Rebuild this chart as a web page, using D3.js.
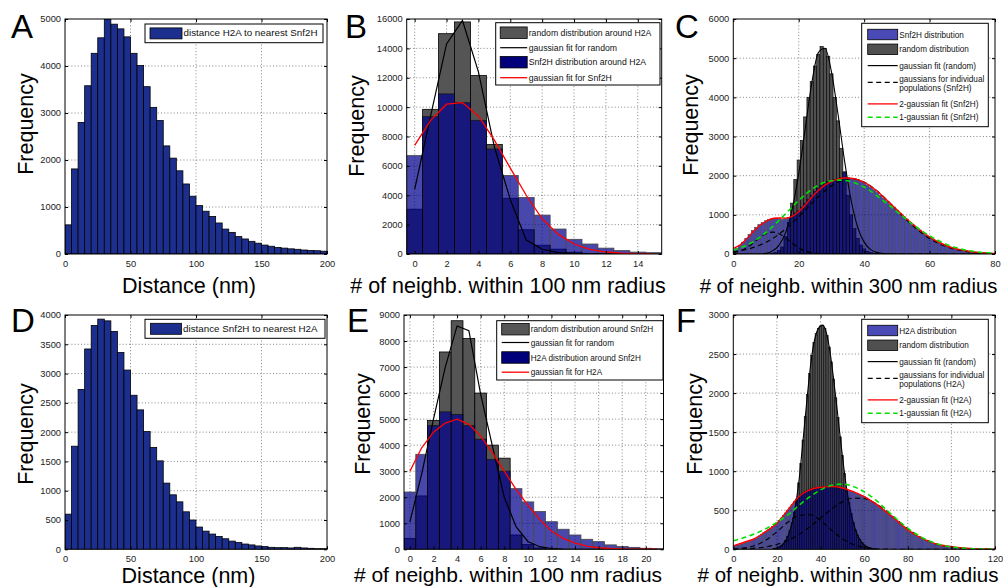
<!DOCTYPE html>
<html><head><meta charset="utf-8">
<script src="https://cdn.jsdelivr.net/npm/d3@7"></script>
<style>
body{margin:0;background:#fff;}
svg{display:block;}
text{font-family:"Liberation Sans",Arial,Helvetica,sans-serif;}
</style></head><body>
<svg id="fig" width="1003" height="587"></svg>
<script>
// ---------------- DATA ----------------
// Panel A: distance H2A to nearest Snf2H (bins of 5 nm, 0..200)
const A_binWidth = 5;
const A_counts = [620,1810,2800,3580,4270,4600,5000,4890,4790,4620,4270,4010,3560,3120,2840,2300,2040,1770,1490,1230,
                  1030,910,800,660,530,460,370,320,270,230,190,165,140,125,110,100,85,75,70,60];
// Panel D: distance Snf2H to nearest H2A
const D_binWidth = 5;
const D_counts = [600,1760,2730,3420,3820,3930,3900,3720,3360,3060,2630,2380,2010,1740,1510,1130,930,810,640,500,
                  380,310,260,220,180,140,115,90,75,57,46,34,28,28,23,34,23,17,11,11];

// Panel B: # neighbours within 100 nm (integer bins 0..15)
const B_random = [3050,9850,15000,15800,12150,7450,3800,1650,600,330,120,30,10,0,0,0];
const B_snf2h  = [6700,9350,10900,10300,9100,7150,5350,3850,2650,1700,1000,680,400,230,130,90];
const B_fitRandom = [4400,9400,14300,15900,12400,7300,3700,950,320,100,30,0,0,0,0,0];
const B_fitSnf2h  = [7400,9100,10200,10300,9400,7750,5850,4000,2400,1350,680,320,135,50,17,5];

// Panel E: # neighbours within 100 nm (integer bins 0..21)
const E_random = [420,2050,4950,7580,8780,8100,6000,4000,3500,550,180,50,10,0,0,0,0,0,0,0,0,0];
const E_h2a    = [2200,3650,4750,5280,5180,4750,4230,3450,3000,2330,1820,1450,1060,770,550,385,295,170,105,75,40,25];
const E_fitRandom = [1050,2900,5000,7000,8580,8400,5950,3950,2000,870,300,100,30,8,0,0,0,0,0,0,0,0];
const E_fitH2a    = [3000,3900,4500,4850,5000,4800,4350,3700,3000,2300,1700,1150,700,420,240,120,60,30,12,5,2,1];

// Panel C: # neighbours within 300 nm (integer bins 0..79)
const C_snf2h = [100,150,220,300,400,500,600,680,750,800,850,880,900,920,900,880,900,930,980,1050,
                 1100,1200,1300,1400,1500,1600,1680,1750,1800,1850,1880,1900,1920,1950,2080,1950,1930,1920,1900,1860,
                 1820,1760,1700,1640,1570,1500,1420,1350,1270,1200,1120,1040,960,890,810,740,670,610,540,480,
                 430,380,330,290,250,210,180,155,130,115,100,85,70,58,48,40,32,25,20,15];
const C_random = [0,0,0,0,0,0,0,0,0,0,0,0,20,40,90,180,450,800,1300,1900,
                  2400,2900,3500,4000,4400,4800,5100,5300,5250,5050,4600,4000,3400,2700,2100,1500,1000,650,400,230,
                  130,70,35,15,8,0,0,0,0,0];
// fitted curves for C, sampled every 2 units
const C_fitX = [0,2,4,6,8,10,12,14,16,18,20,22,24,26,28,30,32,34,36,38,40,42,44,46,48,50,52,54,56,58,60,62,64,66,68,70,72,74,76,78,80];
const C_fitRandom = [0,0,0,0,0,15,80,228,546,1140,2052,3215,4367,5143,5254,4655,3577,2385,1379,690,303,113,37,10,3,0,0,0,0,0,0,0,0,0,0,0,0,0,0,0,0];
const C_pop1 = [31,76,156,273,407,517,560,517,407,273,156,76,31,11,3,1,0,0,0,0,0,0,0,0,0,0,0,0,0,0,0,0,0,0,0,0,0,0,0,0,0];
const C_pop2 = [55,81,115,163,223,300,395,509,641,789,951,1121,1294,1459,1610,1739,1837,1899,1920,1899,1837,1739,1610,1459,1294,1121,951,789,641,509,395,300,223,163,115,81,55,37,24,15,9];
const C_fit2 = [145,230,380,560,720,830,905,920,915,960,1080,1250,1450,1620,1760,1850,1910,1940,1935,1900,1830,1730,1600,1450,1290,1130,970,820,680,550,435,335,255,185,135,100,70,48,32,22,15];
const C_fit1 = [100,150,220,310,420,550,700,860,1030,1200,1370,1520,1650,1760,1830,1870,1885,1880,1850,1790,1710,1605,1480,1350,1220,1080,950,810,690,570,465,370,290,220,165,120,85,60,40,28,18];

// Panel F: # neighbours within 300 nm (integer bins 0..119)
const F_h2a = [40,50,55,60,70,80,90,100,110,125, 140,155,170,190,210,230,250,270,295,315,
               335,370,400,430,465,500,540,575,610,645, 675,700,720,740,755,765,775,785,790,795,
               800,805,805,805,805,800,800,795,790,785, 780,770,760,750,740,735,720,710,700,690,
               675,660,640,625,605,590,570,550,530,505, 485,460,440,415,390,370,345,320,295,270,
               250,230,210,190,175,160,145,130,118,105, 95,85,75,68,60,55,48,43,38,35,
               32,28,25,22,19,17,15,13,11,10, 8,7,6,5,4,3,3,2,2,1];
const F_random = [0,0,0,0,0,0,0,0,0,0, 0,0,0,0,0,0,0,0,0,10,
                  17,28,45,70,110,165,240,340,470,640, 850,1100,1400,1700,1980,2250,2480,2650,2760,2830,
                  2860,2870,2830,2740,2590,2400,2180,1940,1690,1440, 1200,970,770,600,460,345,250,180,125,85,
                  55,35,22,13,7,0,0,0,0,0];
const F_rndX = [18,20,22,24,26,28,30,32,34,36,38,40,41,42,44,46,48,50,52,54,56,58,60,62,64,66];
const F_fitRandom = [8,17,45,110,240,470,850,1400,1980,2480,2760,2860,2870,2830,2590,2180,1690,1200,770,460,250,125,55,22,7,2];
const F_fitX = [0,5,10,15,20,25,30,35,40,45,50,55,60,65,70,75,80,85,90,95,100,105,110,115,120];
const F_pop1 = [5,18,50,118,224,346,433,443,368,248,136,61,22,7,2,0,0,0,0,0,0,0,0,0,0];
const F_pop2 = [2,6,14,31,62,112,187,286,400,515,607,655,650,591,493,377,264,170,100,54,27,12,5,2,1];
const F_fit2 = [43,90,141,230,333,504,674,760,794,802,785,738,674,589,482,367,248,162,98,55,34,17,8,4,2];
const F_fit1 = [110,150,200,265,345,440,560,670,760,820,835,805,735,640,510,385,270,175,105,58,30,15,7,3,1];

// ticks
const A_xticks=[0,50,100,150,200], A_yticks=[0,1000,2000,3000,4000,5000];
const D_xticks=[0,50,100,150,200], D_yticks=[0,500,1000,1500,2000,2500,3000,3500,4000];
const B_xticks=[0,2,4,6,8,10,12,14], B_yticks=[0,2000,4000,6000,8000,10000,12000,14000,16000];
const E_xticks=[0,2,4,6,8,10,12,14,16,18,20], E_yticks=[0,1000,2000,3000,4000,5000,6000,7000,8000,9000];
const C_xticks=[0,20,40,60,80], C_yticks=[0,1000,2000,3000,4000,5000,6000];
const F_xticks=[0,20,40,60,80,100,120], F_yticks=[0,500,1000,1500,2000,2500,3000];

// ---------------- STYLE ----------------
const NAVY_A = '#1c2f8e';
const GREY = '#555555';
const BLUE_T = '#00008c', BLUE_OP = 0.72;
const svg = d3.select('#fig');
svg.append('rect').attr('width',1003).attr('height',587).attr('fill','#fff');

let clipN = 0;
function makePanel(p){
  const x = d3.scaleLinear().domain(p.xdom).range([p.left,p.right]);
  const y = d3.scaleLinear().domain(p.ydom).range([p.bottom,p.top]);
  const g = svg.append('g');
  g.append('rect').attr('x',p.left).attr('y',p.top).attr('width',p.right-p.left).attr('height',p.bottom-p.top).attr('fill','#fff');
  const grid = g.append('g').attr('stroke','#666').attr('stroke-width',0.8).attr('stroke-dasharray','1,2.2');
  p.xticks.filter(t=>t>p.xdom[0]&&t<p.xdom[1]).forEach(t=>grid.append('line').attr('x1',x(t)).attr('x2',x(t)).attr('y1',p.top).attr('y2',p.bottom));
  p.yticks.filter(t=>t>p.ydom[0]&&t<p.ydom[1]).forEach(t=>grid.append('line').attr('y1',y(t)).attr('y2',y(t)).attr('x1',p.left).attr('x2',p.right));
  const id = 'clip'+(clipN++);
  svg.append('clipPath').attr('id',id).append('rect').attr('x',p.left).attr('y',p.top).attr('width',p.right-p.left).attr('height',p.bottom-p.top);
  const dg = g.append('g').attr('clip-path',`url(#${id})`);
  p.draw(dg,x,y);
  // axes
  const fmt = d3.format('d');
  const styleAx = sel => { sel.select('.domain').remove(); sel.selectAll('line').attr('stroke','#000'); sel.selectAll('text').attr('fill','#222').attr('font-size','9.3px').attr('font-family','"Liberation Sans",Arial,sans-serif'); };
  g.append('g').attr('transform',`translate(0,${p.bottom})`).call(d3.axisBottom(x).tickValues(p.xticks).tickFormat(fmt).tickSize(-3).tickPadding(6)).call(styleAx);
  g.append('g').attr('transform',`translate(0,${p.top})`).call(d3.axisTop(x).tickValues(p.xticks).tickFormat('').tickSize(-3)).call(styleAx);
  g.append('g').attr('transform',`translate(${p.left},0)`).call(d3.axisLeft(y).tickValues(p.yticks).tickFormat(fmt).tickSize(-3).tickPadding(4)).call(styleAx);
  g.append('g').attr('transform',`translate(${p.right},0)`).call(d3.axisRight(y).tickValues(p.yticks).tickFormat('').tickSize(-3)).call(styleAx);
  g.append('rect').attr('x',p.left).attr('y',p.top).attr('width',p.right-p.left).attr('height',p.bottom-p.top).attr('fill','none').attr('stroke','#000').attr('stroke-width',1);
  // titles
  svg.append('text').attr('transform',`translate(${p.ylab[0]},${p.ylab[1]}) rotate(-90)`).attr('text-anchor','middle').attr('font-size','21.5px').attr('fill','#000').text('Frequency');
  svg.append('text').attr('x',p.xlab[0]).attr('y',p.xlab[1]).attr('text-anchor','middle').attr('font-size',p.xlabSize+'px').attr('fill','#000').text(p.xlabText);
  svg.append('text').attr('x',p.letter[0]).attr('y',p.letter[1]).attr('font-size','33px').attr('fill','#000').text(p.letterText);
  if(p.legend) drawLegend(p.legend);
  return {x,y};
}

function centeredBars(g,x,y,vals,fill,opacity,sw){
  g.append('g').attr('opacity',opacity).selectAll('rect').data(vals).join('rect')
    .attr('x',(d,i)=>x(i-0.5)).attr('width',(d,i)=>x(i+0.5)-x(i-0.5))
    .attr('y',d=>y(d)).attr('height',d=>y(0)-y(d))
    .attr('fill',fill).attr('stroke','#000').attr('stroke-width',sw);
}
function edgeBars(g,x,y,vals,w,fill){
  g.append('g').selectAll('rect').data(vals).join('rect')
    .attr('x',(d,i)=>x(i*w)).attr('width',(d,i)=>x((i+1)*w)-x(i*w))
    .attr('y',d=>y(d)).attr('height',d=>y(0)-y(d))
    .attr('fill',fill).attr('stroke','#000').attr('stroke-width',0.8);
}
function curve(g,x,y,xs,vals,color,width,dash,smooth){
  const ln = d3.line().x((d,i)=>x(xs[i])).y(d=>y(d));
  if(smooth) ln.curve(d3.curveMonotoneX);
  const pth = g.append('path').datum(vals).attr('d',ln).attr('fill','none').attr('stroke',color).attr('stroke-width',width);
  if(dash) pth.attr('stroke-dasharray',dash);
}

function drawLegend(L){
  const g = svg.append('g');
  g.append('rect').attr('x',L.x).attr('y',L.y).attr('width',L.w).attr('height',L.h).attr('fill','#fff').attr('stroke','#000').attr('stroke-width',1);
  L.rows.forEach(r=>{
    const cy = L.y + r.dy;
    if(r.type==='patch'){
      g.append('rect').attr('x',L.x+L.px).attr('y',cy-L.ph/2).attr('width',L.pw).attr('height',L.ph).attr('fill',r.fill).attr('stroke','#000').attr('stroke-width',0.8);
    } else if(r.type==='line'){
      const l = g.append('line').attr('x1',L.x+L.px).attr('x2',L.x+L.px+L.pw).attr('y1',cy).attr('y2',cy).attr('stroke',r.stroke).attr('stroke-width',r.sw||1.3);
      if(r.dash) l.attr('stroke-dasharray',r.dash);
    }
    r.text.forEach((t,j)=>{
      g.append('text').attr('x',L.x+L.px+L.pw+1.5).attr('y',cy+3+(r.tdy||0)+j*(L.lh||9)).attr('font-size',L.fs+'px').attr('fill','#111').text(t);
    });
  });
}

// ---------------- PANELS ----------------
const TOP = {top:19,bottom:254}, BOT = {top:315,bottom:549.3};

makePanel({...TOP,left:65,right:327,xdom:[0,200],ydom:[0,5000],xticks:A_xticks,yticks:A_yticks,
  ylab:[32.5,124],xlab:[189,292.5],xlabSize:21.5,xlabText:'Distance (nm)',letter:[11,38],letterText:'A',
  draw:(g,x,y)=>edgeBars(g,x,y,A_counts,A_binWidth,NAVY_A),
  legend:{x:145,y:24,w:178,h:18.7,px:5,pw:32,ph:11,fs:9.8,rows:[{type:'patch',dy:9.4,fill:NAVY_A,text:['distance H2A to nearest Snf2H']}]}});

makePanel({...BOT,left:65,right:327,xdom:[0,200],ydom:[0,4000],xticks:D_xticks,yticks:D_yticks,
  ylab:[33,434],xlab:[188.5,583],xlabSize:21.5,xlabText:'Distance (nm)',letter:[11,332],letterText:'D',
  draw:(g,x,y)=>edgeBars(g,x,y,D_counts,D_binWidth,NAVY_A),
  legend:{x:145,y:319.3,w:180,h:19,px:5.5,pw:31,ph:11,fs:9.8,rows:[{type:'patch',dy:9.5,fill:NAVY_A,text:['distance Snf2H to nearest H2A']}]}});

const BX = d3.range(B_random.length), EX = d3.range(E_random.length);
makePanel({...TOP,left:406.7,right:661.7,xdom:[-0.5,15.5],ydom:[0,16000],xticks:B_xticks,yticks:B_yticks,
  ylab:[364,126],xlab:[508,293],xlabSize:21.5,xlabText:'# of neighb. within 100 nm radius',letter:[345,38],letterText:'B',
  draw:(g,x,y)=>{
    centeredBars(g,x,y,B_random,GREY,1,0.8);
    centeredBars(g,x,y,B_snf2h,BLUE_T,BLUE_OP,0.8);
    curve(g,x,y,BX,B_fitRandom,'#000',1.2,null,false);
    curve(g,x,y,BX,B_fitSnf2h,'#ff0000',1.3,null,false);
  },
  legend:{x:495.7,y:22.7,w:164.3,h:62.3,px:4.5,pw:27,ph:11.5,fs:8.7,rows:[
    {type:'patch',dy:10,fill:GREY,text:['random distribution around H2A']},
    {type:'line',dy:25,stroke:'#000',sw:1.2,text:['gaussian fit for random']},
    {type:'patch',dy:39.5,fill:'#00007a',text:['Snf2H distribution around H2A']},
    {type:'line',dy:55,stroke:'#ff0000',text:['gaussian fit for Snf2H']}]}});

makePanel({...BOT,left:404,right:663.5,xdom:[-0.5,21.5],ydom:[0,9000],xticks:E_xticks,yticks:E_yticks,
  ylab:[370,424],xlab:[508,582],xlabSize:21,xlabText:'# of neighb. within 100 nm radius',letter:[347,332],letterText:'E',
  draw:(g,x,y)=>{
    centeredBars(g,x,y,E_random,GREY,1,0.8);
    centeredBars(g,x,y,E_h2a,BLUE_T,BLUE_OP,0.8);
    curve(g,x,y,EX,E_fitRandom,'#000',1.2,null,false);
    curve(g,x,y,EX,E_fitH2a,'#ff0000',1.3,null,false);
  },
  legend:{x:496.7,y:320.7,w:166.3,h:59.3,px:5,pw:27.5,ph:11.5,fs:8.2,rows:[
    {type:'patch',dy:8.5,fill:GREY,text:['random distribution around Snf2H']},
    {type:'line',dy:21.8,stroke:'#000',sw:1.2,text:['gaussian fit for random']},
    {type:'patch',dy:36.8,fill:'#00007a',text:['H2A distribution around Snf2H']},
    {type:'line',dy:51.5,stroke:'#ff0000',text:['gaussian fit for H2A']}]}});

function legendCF(top, who){
  return {x:861.7,y:top,w:126.6,h:103.4,px:6,pw:30,ph:10.5,fs:8.2,lh:8.6,rows:[
    {type:'patch',dy:11.2,fill:'#4a4ab6',text:[who+' distribution']},
    {type:'patch',dy:26,fill:'#505050',text:['random distribution']},
    {type:'line',dy:42.3,stroke:'#000',sw:1.2,text:['gaussian fit (random)']},
    {type:'line',dy:59,stroke:'#000',sw:1.3,dash:'5,3.5',tdy:-3.3,text:['gaussians for individual','populations ('+who+')']},
    {type:'line',dy:80.6,stroke:'#ff0000',sw:1.3,text:['2-gaussian fit ('+who+')']},
    {type:'line',dy:94,stroke:'#00e000',sw:1.6,dash:'5,3.5',text:['1-gaussian fit ('+who+')']}]};
}
makePanel({...TOP,left:733.3,right:995,xdom:[0,80],ydom:[0,6000],xticks:C_xticks,yticks:C_yticks,
  ylab:[698,125],xlab:[848.5,293],xlabSize:20.3,xlabText:'# of neighb. within 300 nm radius',letter:[675,38],letterText:'C',
  draw:(g,x,y)=>{
    centeredBars(g,x,y,C_random,'#505050',1,0.6);
    centeredBars(g,x,y,C_snf2h,BLUE_T,BLUE_OP,0.6);
    curve(g,x,y,C_fitX,C_fitRandom,'#000',1.1,null,true);
    curve(g,x,y,C_fitX,C_pop1,'#000',1.2,'5,3.5',true);
    curve(g,x,y,C_fitX,C_pop2,'#000',1.2,'5,3.5',true);
    curve(g,x,y,C_fitX,C_fit2,'#ff0000',1.4,null,true);
    curve(g,x,y,C_fitX,C_fit1,'#00e000',1.6,'5,3.5',true);
  },
  legend:legendCF(23.3,'Snf2H')});

makePanel({...BOT,left:733.3,right:995,xdom:[0,120],ydom:[0,3000],xticks:F_xticks,yticks:F_yticks,
  ylab:[702,424],xlab:[848,582],xlabSize:20.5,xlabText:'# of neighb. within 300 nm radius',letter:[676,332],letterText:'F',
  draw:(g,x,y)=>{
    centeredBars(g,x,y,F_random,'#505050',1,0.5);
    centeredBars(g,x,y,F_h2a,BLUE_T,BLUE_OP,0.5);
    curve(g,x,y,F_rndX,F_fitRandom,'#000',1.1,null,true);
    curve(g,x,y,F_fitX,F_pop1,'#000',1.2,'5,3.5',true);
    curve(g,x,y,F_fitX,F_pop2,'#000',1.2,'5,3.5',true);
    curve(g,x,y,F_fitX,F_fit2,'#ff0000',1.4,null,true);
    curve(g,x,y,F_fitX,F_fit1,'#00e000',1.6,'5,3.5',true);
  },
  legend:legendCF(319.3,'H2A')});
</script></body></html>
